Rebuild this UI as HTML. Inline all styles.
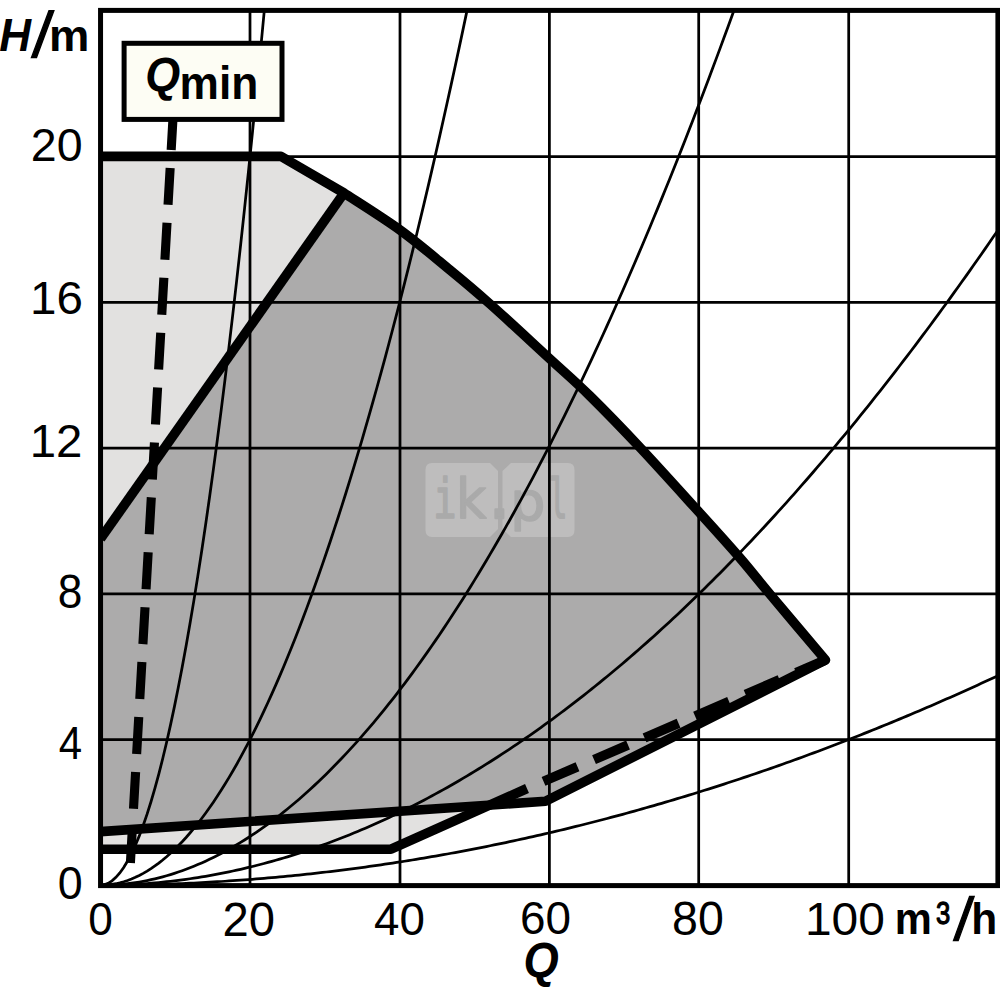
<!DOCTYPE html>
<html><head><meta charset="utf-8"><title>Pump curve</title><style>
html,body{margin:0;padding:0;background:#fff;}
body{width:1000px;height:1000px;overflow:hidden;}
svg{display:block;}
</style></head><body>
<svg width="1000" height="1000" viewBox="0 0 1000 1000">
<defs><clipPath id="pc"><rect x="100.5" y="10.4" width="897.4" height="875.2"/></clipPath></defs>
<rect width="1000" height="1000" fill="#fff"/>
<g clip-path="url(#pc)">
<path d="M100.5,156.4 L281,156.4 L344,193 C353.3,199.2 382.3,217.2 400.0,230.0 C417.7,242.8 435.0,257.7 450.0,270.0 C465.0,282.3 473.3,289.2 490.0,304.0 C506.7,318.8 533.3,343.7 550.0,359.0 C566.7,374.3 575.0,381.2 590.0,396.0 C605.0,410.8 622.0,428.3 640.0,447.5 C658.0,466.7 681.3,492.6 698.0,511.0 C714.7,529.4 727.8,543.8 740.0,558.0 C752.2,572.2 757.2,579.0 771.5,596.0 C785.8,613.0 816.5,649.3 825.5,660.0 L527.0,788.5 L391.0,849.2 L100.5,849.2 Z" fill="#e2e1e0"/>
<path d="M100.5,538.8 L344,193 C353.3,199.2 382.3,217.2 400.0,230.0 C417.7,242.8 435.0,257.7 450.0,270.0 C465.0,282.3 473.3,289.2 490.0,304.0 C506.7,318.8 533.3,343.7 550.0,359.0 C566.7,374.3 575.0,381.2 590.0,396.0 C605.0,410.8 622.0,428.3 640.0,447.5 C658.0,466.7 681.3,492.6 698.0,511.0 C714.7,529.4 727.8,543.8 740.0,558.0 C752.2,572.2 757.2,579.0 771.5,596.0 C785.8,613.0 816.5,649.3 825.5,660.0 L545.5,801.3 L100.5,831.6 Z" fill="#acabab"/>
<g opacity="0.22"><path d="M432,463 H490 L498,471 V529 L490,537 H432 Q425.5,537 425.5,530 V470 Q425.5,463 432,463 Z" fill="#fff"/><path d="M511,463 H568 Q574.5,463 574.5,470 V530 Q574.5,537 568,537 H511 L502.5,529 V471 Z" fill="#fff"/></g>
<text transform="matrix(0.38737 0 0 0.54684 433.192 518.180)" font-family="DejaVu Sans Mono, sans-serif" font-size="100" font-weight="normal" font-style="normal" fill="#aaaaaa" stroke="#aaaaaa" stroke-width="3.0" stroke-linejoin="round">i</text>
<text transform="matrix(0.52427 0 0 0.54684 456.068 518.180)" font-family="DejaVu Sans, sans-serif" font-size="100" font-weight="normal" font-style="normal" fill="#aaaaaa" stroke="#aaaaaa" stroke-width="3.0" stroke-linejoin="round">k</text>
<text transform="matrix(0.80000 0 0 0.80000 488.300 517.800)" font-family="Liberation Sans, sans-serif" font-size="100" font-weight="normal" font-style="normal" fill="#aaaaaa" stroke="#aaaaaa" stroke-width="3.0" stroke-linejoin="round">.</text>
<text transform="matrix(0.55385 0 0 0.54169 510.246 519.747)" font-family="DejaVu Sans, sans-serif" font-size="100" font-weight="normal" font-style="normal" fill="#aaaaaa" stroke="#aaaaaa" stroke-width="3.0" stroke-linejoin="round">p</text>
<text transform="matrix(0.30601 0 0 0.54340 549.087 518.185)" font-family="DejaVu Sans Mono, sans-serif" font-size="100" font-weight="normal" font-style="normal" fill="#aaaaaa" stroke="#aaaaaa" stroke-width="3.0" stroke-linejoin="round">l</text>
<path d="M250.0,0 V1000 M400.0,0 V1000 M549.4,0 V1000 M698.7,0 V1000 M848.7,0 V1000 M0,739.5 H1000 M0,593.8 H1000 M0,448.0 H1000 M0,302.3 H1000 M0,156.5 H1000" stroke="#000" stroke-width="2.75" fill="none"/>
<path d="M100.30,885.30 L104.20,884.81 L108.10,883.32 L112.00,880.85 L115.89,877.39 L119.79,872.94 L123.69,867.51 L127.59,861.08 L131.49,853.67 L135.39,845.27 L139.28,835.88 L143.18,825.50 L147.08,814.13 L150.98,801.77 L154.88,788.43 L158.78,774.09 L162.68,758.77 L166.57,742.46 L170.47,725.16 L174.37,706.88 L178.27,687.60 L182.17,667.34 L186.07,646.08 L189.96,623.84 L193.86,600.61 L197.76,576.39 L201.66,551.19 L205.56,524.99 L209.46,497.81 L213.35,469.64 L217.25,440.48 L221.15,410.33 L225.05,379.19 L228.95,347.06 L232.85,313.95 L236.75,279.84 L240.64,244.75 L244.54,208.67 L248.44,171.60 L252.34,133.55 L256.24,94.50 L260.14,54.47 L264.03,13.44 L267.93,-28.57" stroke="#000" stroke-width="2.75" fill="none"/>
<path d="M100.30,885.30 L104.20,885.20 L108.10,884.90 L112.00,884.41 L115.89,883.72 L119.79,882.83 L123.69,881.74 L127.59,880.46 L131.49,878.97 L135.39,877.29 L139.28,875.42 L143.18,873.34 L147.08,871.07 L150.98,868.59 L154.88,865.93 L158.78,863.06 L162.68,859.99 L166.57,856.73 L170.47,853.27 L174.37,849.62 L178.27,845.76 L182.17,841.71 L186.07,837.46 L189.96,833.01 L193.86,828.36 L197.76,823.52 L201.66,818.48 L205.56,813.24 L209.46,807.80 L213.35,802.17 L217.25,796.34 L221.15,790.31 L225.05,784.08 L228.95,777.65 L232.85,771.03 L236.75,764.21 L240.64,757.19 L244.54,749.97 L248.44,742.56 L252.34,734.95 L256.24,727.14 L260.14,719.13 L264.03,710.93 L267.93,702.53 L271.83,693.93 L275.73,685.13 L279.63,676.13 L283.53,666.94 L287.43,657.55 L291.32,647.96 L295.22,638.18 L299.12,628.19 L303.02,618.01 L306.92,607.63 L310.82,597.05 L314.71,586.28 L318.61,575.31 L322.51,564.14 L326.41,552.77 L330.31,541.20 L334.21,529.44 L338.10,517.48 L342.00,505.32 L345.90,492.97 L349.80,480.41 L353.70,467.66 L357.60,454.71 L361.50,441.56 L365.39,428.22 L369.29,414.68 L373.19,400.94 L377.09,387.00 L380.99,372.86 L384.89,358.53 L388.78,344.00 L392.68,329.27 L396.58,314.34 L400.48,299.22 L404.38,283.90 L408.28,268.38 L412.18,252.66 L416.07,236.75 L419.97,220.63 L423.87,204.32 L427.77,187.82 L431.67,171.11 L435.57,154.21 L439.46,137.11 L443.36,119.81 L447.26,102.31 L451.16,84.62 L455.06,66.72 L458.96,48.64 L462.85,30.35 L466.75,11.86 L470.65,-6.82" stroke="#000" stroke-width="2.75" fill="none"/>
<path d="M100.30,885.30 L104.20,885.27 L108.10,885.17 L112.00,885.00 L115.89,884.77 L119.79,884.47 L123.69,884.11 L127.59,883.68 L131.49,883.18 L135.39,882.62 L139.28,881.99 L143.18,881.29 L147.08,880.53 L150.98,879.70 L154.88,878.81 L158.78,877.85 L162.68,876.82 L166.57,875.73 L170.47,874.57 L174.37,873.35 L178.27,872.05 L182.17,870.70 L186.07,869.27 L189.96,867.78 L193.86,866.23 L197.76,864.60 L201.66,862.91 L205.56,861.16 L209.46,859.34 L213.35,857.45 L217.25,855.50 L221.15,853.48 L225.05,851.39 L228.95,849.24 L232.85,847.02 L236.75,844.73 L240.64,842.38 L244.54,839.97 L248.44,837.48 L252.34,834.93 L256.24,832.32 L260.14,829.63 L264.03,826.89 L267.93,824.07 L271.83,821.19 L275.73,818.24 L279.63,815.23 L283.53,812.15 L287.43,809.00 L291.32,805.79 L295.22,802.51 L299.12,799.17 L303.02,795.76 L306.92,792.28 L310.82,788.74 L314.71,785.13 L318.61,781.45 L322.51,777.71 L326.41,773.90 L330.31,770.03 L334.21,766.09 L338.10,762.08 L342.00,758.01 L345.90,753.87 L349.80,749.66 L353.70,745.39 L357.60,741.05 L361.50,736.65 L365.39,732.18 L369.29,727.64 L373.19,723.04 L377.09,718.37 L380.99,713.63 L384.89,708.83 L388.78,703.96 L392.68,699.03 L396.58,694.03 L400.48,688.96 L404.38,683.83 L408.28,678.63 L412.18,673.37 L416.07,668.03 L419.97,662.64 L423.87,657.17 L427.77,651.64 L431.67,646.05 L435.57,640.38 L439.46,634.65 L443.36,628.86 L447.26,623.00 L451.16,617.07 L455.06,611.08 L458.96,605.02 L462.85,598.89 L466.75,592.70 L470.65,586.44 L474.55,580.12 L478.45,573.72 L482.35,567.27 L486.25,560.74 L490.14,554.15 L494.04,547.50 L497.94,540.77 L501.84,533.99 L505.74,527.13 L509.64,520.21 L513.53,513.22 L517.43,506.17 L521.33,499.05 L525.23,491.86 L529.13,484.61 L533.03,477.29 L536.93,469.91 L540.82,462.46 L544.72,454.94 L548.62,447.36 L552.52,439.71 L556.42,431.99 L560.32,424.21 L564.21,416.36 L568.11,408.45 L572.01,400.47 L575.91,392.42 L579.81,384.31 L583.71,376.13 L587.60,367.88 L591.50,359.57 L595.40,351.19 L599.30,342.75 L603.20,334.24 L607.10,325.66 L611.00,317.02 L614.89,308.31 L618.79,299.53 L622.69,290.69 L626.59,281.78 L630.49,272.81 L634.39,263.77 L638.28,254.66 L642.18,245.49 L646.08,236.25 L649.98,226.95 L653.88,217.58 L657.78,208.14 L661.67,198.63 L665.57,189.06 L669.47,179.43 L673.37,169.72 L677.27,159.96 L681.17,150.12 L685.07,140.22 L688.96,130.25 L692.86,120.22 L696.76,110.12 L700.66,99.95 L704.56,89.72 L708.46,79.42 L712.35,69.06 L716.25,58.62 L720.15,48.13 L724.05,37.56 L727.95,26.93 L731.85,16.24 L735.75,5.48 L739.64,-5.35" stroke="#000" stroke-width="2.75" fill="none"/>
<path d="M100.30,885.30 L104.20,885.29 L108.10,885.25 L112.00,885.19 L115.89,885.10 L119.79,884.99 L123.69,884.86 L127.59,884.69 L131.49,884.51 L135.39,884.30 L139.28,884.06 L143.18,883.80 L147.08,883.52 L150.98,883.21 L154.88,882.88 L158.78,882.52 L162.68,882.14 L166.57,881.73 L170.47,881.30 L174.37,880.84 L178.27,880.36 L182.17,879.85 L186.07,879.32 L189.96,878.76 L193.86,878.18 L197.76,877.58 L201.66,876.95 L205.56,876.29 L209.46,875.61 L213.35,874.91 L217.25,874.18 L221.15,873.43 L225.05,872.65 L228.95,871.84 L232.85,871.02 L236.75,870.16 L240.64,869.29 L244.54,868.38 L248.44,867.46 L252.34,866.51 L256.24,865.53 L260.14,864.53 L264.03,863.50 L267.93,862.45 L271.83,861.38 L275.73,860.28 L279.63,859.15 L283.53,858.01 L287.43,856.83 L291.32,855.63 L295.22,854.41 L299.12,853.16 L303.02,851.89 L306.92,850.59 L310.82,849.27 L314.71,847.92 L318.61,846.55 L322.51,845.15 L326.41,843.73 L330.31,842.29 L334.21,840.82 L338.10,839.32 L342.00,837.80 L345.90,836.26 L349.80,834.69 L353.70,833.09 L357.60,831.48 L361.50,829.83 L365.39,828.16 L369.29,826.47 L373.19,824.75 L377.09,823.01 L380.99,821.25 L384.89,819.45 L388.78,817.64 L392.68,815.80 L396.58,813.93 L400.48,812.04 L404.38,810.12 L408.28,808.18 L412.18,806.22 L416.07,804.23 L419.97,802.22 L423.87,800.18 L427.77,798.11 L431.67,796.03 L435.57,793.91 L439.46,791.78 L443.36,789.61 L447.26,787.43 L451.16,785.21 L455.06,782.98 L458.96,780.72 L462.85,778.43 L466.75,776.12 L470.65,773.79 L474.55,771.42 L478.45,769.04 L482.35,766.63 L486.25,764.20 L490.14,761.74 L494.04,759.25 L497.94,756.75 L501.84,754.21 L505.74,751.66 L509.64,749.07 L513.53,746.47 L517.43,743.83 L521.33,741.18 L525.23,738.50 L529.13,735.79 L533.03,733.06 L536.93,730.30 L540.82,727.52 L544.72,724.72 L548.62,721.89 L552.52,719.03 L556.42,716.16 L560.32,713.25 L564.21,710.32 L568.11,707.37 L572.01,704.39 L575.91,701.39 L579.81,698.36 L583.71,695.31 L587.60,692.23 L591.50,689.13 L595.40,686.01 L599.30,682.86 L603.20,679.68 L607.10,676.48 L611.00,673.25 L614.89,670.01 L618.79,666.73 L622.69,663.43 L626.59,660.11 L630.49,656.76 L634.39,653.39 L638.28,649.99 L642.18,646.57 L646.08,643.12 L649.98,639.65 L653.88,636.15 L657.78,632.63 L661.67,629.08 L665.57,625.51 L669.47,621.91 L673.37,618.29 L677.27,614.65 L681.17,610.98 L685.07,607.28 L688.96,603.57 L692.86,599.82 L696.76,596.05 L700.66,592.26 L704.56,588.44 L708.46,584.60 L712.35,580.73 L716.25,576.84 L720.15,572.92 L724.05,568.98 L727.95,565.01 L731.85,561.02 L735.75,557.01 L739.64,552.97 L743.54,548.90 L747.44,544.81 L751.34,540.70 L755.24,536.56 L759.14,532.39 L763.03,528.21 L766.93,523.99 L770.83,519.75 L774.73,515.49 L778.63,511.20 L782.53,506.89 L786.43,502.55 L790.32,498.19 L794.22,493.81 L798.12,489.39 L802.02,484.96 L805.92,480.50 L809.82,476.01 L813.71,471.50 L817.61,466.97 L821.51,462.41 L825.41,457.82 L829.31,453.22 L833.21,448.58 L837.10,443.92 L841.00,439.24 L844.90,434.53 L848.80,429.80 L852.70,425.04 L856.60,420.26 L860.50,415.45 L864.39,410.62 L868.29,405.77 L872.19,400.89 L876.09,395.98 L879.99,391.05 L883.89,386.10 L887.78,381.12 L891.68,376.11 L895.58,371.08 L899.48,366.03 L903.38,360.95 L907.28,355.85 L911.17,350.72 L915.07,345.57 L918.97,340.39 L922.87,335.19 L926.77,329.96 L930.67,324.71 L934.57,319.43 L938.46,314.13 L942.36,308.81 L946.26,303.46 L950.16,298.08 L954.06,292.68 L957.96,287.26 L961.85,281.81 L965.75,276.34 L969.65,270.84 L973.55,265.31 L977.45,259.77 L981.35,254.19 L985.25,248.60 L989.14,242.97 L993.04,237.33 L996.94,231.66 L1000.84,225.96 L1004.74,220.24 L1008.64,214.49 L1012.53,208.72 L1016.43,202.93 L1020.33,197.11 L1024.23,191.26 L1028.13,185.39 L1032.03,179.50 L1035.92,173.58" stroke="#000" stroke-width="2.75" fill="none"/>
<path d="M100.30,885.30 L104.20,885.30 L108.10,885.28 L112.00,885.26 L115.89,885.24 L119.79,885.20 L123.69,885.16 L127.59,885.11 L131.49,885.05 L135.39,884.98 L139.28,884.90 L143.18,884.82 L147.08,884.73 L150.98,884.63 L154.88,884.53 L158.78,884.41 L162.68,884.29 L166.57,884.16 L170.47,884.02 L174.37,883.87 L178.27,883.72 L182.17,883.56 L186.07,883.39 L189.96,883.21 L193.86,883.02 L197.76,882.83 L201.66,882.63 L205.56,882.42 L209.46,882.20 L213.35,881.97 L217.25,881.74 L221.15,881.50 L225.05,881.25 L228.95,880.99 L232.85,880.73 L236.75,880.46 L240.64,880.18 L244.54,879.89 L248.44,879.59 L252.34,879.29 L256.24,878.97 L260.14,878.65 L264.03,878.33 L267.93,877.99 L271.83,877.65 L275.73,877.29 L279.63,876.93 L283.53,876.57 L287.43,876.19 L291.32,875.81 L295.22,875.42 L299.12,875.02 L303.02,874.61 L306.92,874.19 L310.82,873.77 L314.71,873.34 L318.61,872.90 L322.51,872.45 L326.41,872.00 L330.31,871.54 L334.21,871.07 L338.10,870.59 L342.00,870.10 L345.90,869.61 L349.80,869.10 L353.70,868.59 L357.60,868.08 L361.50,867.55 L365.39,867.02 L369.29,866.48 L373.19,865.93 L377.09,865.37 L380.99,864.80 L384.89,864.23 L388.78,863.65 L392.68,863.06 L396.58,862.46 L400.48,861.86 L404.38,861.24 L408.28,860.62 L412.18,859.99 L416.07,859.36 L419.97,858.71 L423.87,858.06 L427.77,857.40 L431.67,856.73 L435.57,856.06 L439.46,855.37 L443.36,854.68 L447.26,853.98 L451.16,853.27 L455.06,852.56 L458.96,851.83 L462.85,851.10 L466.75,850.36 L470.65,849.62 L474.55,848.86 L478.45,848.10 L482.35,847.33 L486.25,846.55 L490.14,845.76 L494.04,844.97 L497.94,844.16 L501.84,843.35 L505.74,842.53 L509.64,841.71 L513.53,840.87 L517.43,840.03 L521.33,839.18 L525.23,838.32 L529.13,837.46 L533.03,836.58 L536.93,835.70 L540.82,834.81 L544.72,833.91 L548.62,833.01 L552.52,832.10 L556.42,831.17 L560.32,830.24 L564.21,829.31 L568.11,828.36 L572.01,827.41 L575.91,826.45 L579.81,825.48 L583.71,824.50 L587.60,823.52 L591.50,822.53 L595.40,821.53 L599.30,820.52 L603.20,819.50 L607.10,818.48 L611.00,817.45 L614.89,816.41 L618.79,815.36 L622.69,814.30 L626.59,813.24 L630.49,812.17 L634.39,811.09 L638.28,810.00 L642.18,808.90 L646.08,807.80 L649.98,806.69 L653.88,805.57 L657.78,804.44 L661.67,803.31 L665.57,802.17 L669.47,801.02 L673.37,799.86 L677.27,798.69 L681.17,797.52 L685.07,796.34 L688.96,795.15 L692.86,793.95 L696.76,792.74 L700.66,791.53 L704.56,790.31 L708.46,789.08 L712.35,787.84 L716.25,786.59 L720.15,785.34 L724.05,784.08 L727.95,782.81 L731.85,781.53 L735.75,780.25 L739.64,778.95 L743.54,777.65 L747.44,776.34 L751.34,775.03 L755.24,773.70 L759.14,772.37 L763.03,771.03 L766.93,769.68 L770.83,768.33 L774.73,766.96 L778.63,765.59 L782.53,764.21 L786.43,762.82 L790.32,761.43 L794.22,760.02 L798.12,758.61 L802.02,757.19 L805.92,755.76 L809.82,754.33 L813.71,752.88 L817.61,751.43 L821.51,749.97 L825.41,748.51 L829.31,747.03 L833.21,745.55 L837.10,744.06 L841.00,742.56 L844.90,741.05 L848.80,739.54 L852.70,738.02 L856.60,736.49 L860.50,734.95 L864.39,733.40 L868.29,731.85 L872.19,730.29 L876.09,728.72 L879.99,727.14 L883.89,725.55 L887.78,723.96 L891.68,722.36 L895.58,720.75 L899.48,719.13 L903.38,717.51 L907.28,715.88 L911.17,714.23 L915.07,712.59 L918.97,710.93 L922.87,709.26 L926.77,707.59 L930.67,705.91 L934.57,704.22 L938.46,702.53 L942.36,700.82 L946.26,699.11 L950.16,697.39 L954.06,695.66 L957.96,693.93 L961.85,692.18 L965.75,690.43 L969.65,688.67 L973.55,686.90 L977.45,685.13 L981.35,683.35 L985.25,681.55 L989.14,679.76 L993.04,677.95 L996.94,676.13 L1000.84,674.31 L1004.74,672.48 L1008.64,670.64 L1012.53,668.80 L1016.43,666.94 L1020.33,665.08 L1024.23,663.21 L1028.13,661.33 L1032.03,659.44 L1035.92,657.55" stroke="#000" stroke-width="2.75" fill="none"/>
<g stroke="#000" stroke-width="9.60" fill="none" stroke-linejoin="round">
<path d="M100.5,156.4 L281,156.4 L344,193 C353.3,199.2 382.3,217.2 400.0,230.0 C417.7,242.8 435.0,257.7 450.0,270.0 C465.0,282.3 473.3,289.2 490.0,304.0 C506.7,318.8 533.3,343.7 550.0,359.0 C566.7,374.3 575.0,381.2 590.0,396.0 C605.0,410.8 622.0,428.3 640.0,447.5 C658.0,466.7 681.3,492.6 698.0,511.0 C714.7,529.4 727.8,543.8 740.0,558.0 C752.2,572.2 757.2,579.0 771.5,596.0 C785.8,613.0 816.5,649.3 825.5,660.0 L545.5,801.3 L100.5,831.6"/>
<path d="M100.5,538.8 L344,193"/>
<path d="M100.5,849.2 L391.0,849.2 L527.0,788.5"/>
<path d="M825.5,660.0 L527.0,788.5" stroke-dasharray="37 18" stroke-dashoffset="5"/>
</g>
</g>
<path d="M173.3,113 L130.4,863" stroke="#000" stroke-width="9.1" stroke-dasharray="37 18" fill="none"/>
<rect x="100.55" y="10.40" width="897.35" height="875.20" fill="none" stroke="#000" stroke-width="5"/>
<rect x="124.1" y="43.3" width="157.9" height="76.1" fill="#fdfdf4" stroke="#000" stroke-width="5"/>
<text transform="matrix(0.44014 0 0 0.46836 -0.770 51.000)" font-family="Liberation Sans, sans-serif" font-size="100" font-weight="bold" font-style="italic" fill="#000">H</text>
<text transform="matrix(0.63804 0 -0.06460 0.63804 31.438 56.860)" font-family="Liberation Sans, sans-serif" font-size="100" font-weight="normal" font-style="normal" stroke="#000" stroke-width="2.2">/</text>
<text transform="matrix(0.45377 0 0 0.45209 49.050 51.000)" font-family="Liberation Sans, sans-serif" font-size="100" font-weight="bold" font-style="normal" fill="#000">m</text>
<text transform="matrix(0.46553 0 0 0.46926 30.872 161.131)" font-family="Liberation Sans, sans-serif" font-size="100" font-weight="normal" font-style="normal" fill="#000">20</text>
<text transform="matrix(0.47557 0 0 0.46360 30.033 314.336)" font-family="Liberation Sans, sans-serif" font-size="100" font-weight="normal" font-style="normal" fill="#000">16</text>
<text transform="matrix(0.47392 0 0 0.46452 29.646 456.800)" font-family="Liberation Sans, sans-serif" font-size="100" font-weight="normal" font-style="normal" fill="#000">12</text>
<text transform="matrix(0.44255 0 0 0.47491 57.719 607.525)" font-family="Liberation Sans, sans-serif" font-size="100" font-weight="normal" font-style="normal" fill="#000">8</text>
<text transform="matrix(0.41980 0 0 0.46545 58.655 758.800)" font-family="Liberation Sans, sans-serif" font-size="100" font-weight="normal" font-style="normal" fill="#000">4</text>
<text transform="matrix(0.44817 0 0 0.47067 57.807 898.629)" font-family="Liberation Sans, sans-serif" font-size="100" font-weight="normal" font-style="normal" fill="#000">0</text>
<text transform="matrix(0.44188 0 0 0.46502 88.232 935.135)" font-family="Liberation Sans, sans-serif" font-size="100" font-weight="normal" font-style="normal" fill="#000">0</text>
<text transform="matrix(0.47237 0 0 0.47491 222.538 935.725)" font-family="Liberation Sans, sans-serif" font-size="100" font-weight="normal" font-style="normal" fill="#000">20</text>
<text transform="matrix(0.45714 0 0 0.46502 374.071 935.135)" font-family="Liberation Sans, sans-serif" font-size="100" font-weight="normal" font-style="normal" fill="#000">40</text>
<text transform="matrix(0.45868 0 0 0.47067 519.907 934.429)" font-family="Liberation Sans, sans-serif" font-size="100" font-weight="normal" font-style="normal" fill="#000">60</text>
<text transform="matrix(0.46505 0 0 0.47491 672.024 935.125)" font-family="Liberation Sans, sans-serif" font-size="100" font-weight="normal" font-style="normal" fill="#000">80</text>
<text transform="matrix(0.47910 0 0 0.46643 804.907 935.034)" font-family="Liberation Sans, sans-serif" font-size="100" font-weight="normal" font-style="normal" fill="#000">100</text>
<text transform="matrix(0.41705 0 0 0.43535 894.689 934.200)" font-family="Liberation Sans, sans-serif" font-size="100" font-weight="bold" font-style="normal" fill="#000">m</text>
<text transform="matrix(0.25631 0 0 0.31304 935.951 923.661)" font-family="Liberation Sans, sans-serif" font-size="100" font-weight="normal" font-style="normal" fill="#000" stroke="#000" stroke-width="4.0" stroke-linejoin="round">3</text>
<text transform="matrix(0.60238 0 -0.05494 0.60238 953.378 939.935)" font-family="Liberation Sans, sans-serif" font-size="100" font-weight="normal" font-style="normal" stroke="#000" stroke-width="2.2">/</text>
<text transform="matrix(0.42500 0 0 0.44690 971.225 934.200)" font-family="Liberation Sans, sans-serif" font-size="100" font-weight="bold" font-style="normal" fill="#000">h</text>
<text transform="matrix(0.45352 0 0 0.49020 523.432 977.941)" font-family="Liberation Sans, sans-serif" font-size="100" font-weight="bold" font-style="italic" fill="#000">Q</text>
<text transform="matrix(0.44930 0 0 0.47619 145.254 91.314)" font-family="Liberation Sans, sans-serif" font-size="100" font-weight="bold" font-style="italic" fill="#000">Q</text>
<text transform="matrix(0.44303 0 0 0.46512 179.620 99.400)" font-family="Liberation Sans, sans-serif" font-size="100" font-weight="bold" font-style="normal" fill="#000">min</text>
</svg>
</body></html>
